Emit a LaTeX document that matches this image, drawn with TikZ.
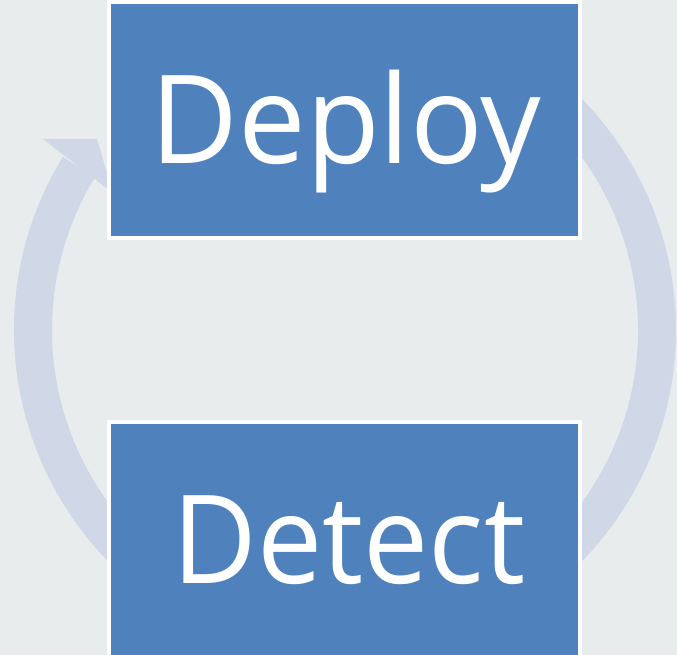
\documentclass[tikz,border=0pt]{standalone}
\usepackage{fontspec}
\setmainfont{Open Sans}
\definecolor{bgc}{RGB}{232,236,237}
\definecolor{ringc}{RGB}{208,216,232}
\definecolor{boxc}{RGB}{79,129,189}
\begin{document}
\begin{tikzpicture}[x=1pt,y=1pt,
  stagebox/.style={rectangle, fill=boxc, draw=white, line width=4pt,
    minimum width=471pt, minimum height=236pt, inner sep=0pt, outer sep=0pt,
    text=white, font=\fontsize{123}{140}\selectfont, text height=88pt, text depth=0pt},
  ringstyle/.style={fill=ringc, draw=none}]
\useasboundingbox[fill=bgc] (0,0) rectangle (677,655);
\coordinate (c) at (345,325);
% cycle arrow band
\fill[ringstyle] ([shift={(148.5:331)}]c) arc[start angle=148.5, end angle=420, radius=331]
  -- ([shift={(420:293)}]c) arc[start angle=420, end angle=148.5, radius=293] -- cycle;
% arrow head
\coordinate (hb1) at (43,516);
\coordinate (htip) at (97,516);
\coordinate (hb2) at (113,462);
\fill[ringstyle] (hb1) -- (htip) -- (hb2) -- cycle;
\node[stagebox] (deploy) at (344.5,535) {\hspace*{3pt}\scalebox{0.98}[1]{Deploy}};
\node[stagebox] (detect) at (344.5,115) {\hspace*{9pt}\scalebox{0.945}[1]{Detect}};
\end{tikzpicture}
\end{document}
